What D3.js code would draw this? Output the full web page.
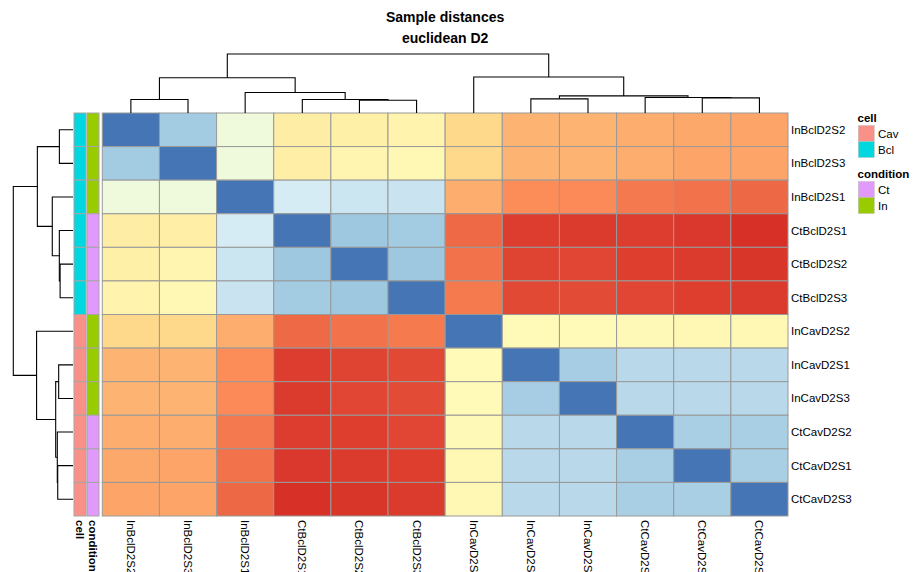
<!DOCTYPE html>
<html lang="en">
	<head>
		<meta charset="utf-8">
		<title>Sample distances</title>
		<style>
			body {
				margin: 0;
				background-color: #ffffff;
				font-family: "Liberation Sans", Arial, Helvetica, sans-serif;
			}
			text {
				font-family: "Liberation Sans", Arial, Helvetica, sans-serif;
			}
			.title { font-size: 14px; font-weight: bold; }
			.lab { font-size: 11.5px; fill: #000; }
			.annlab { font-size: 11.5px; font-weight: bold; }
			.dendro path { fill: none; stroke: #000; stroke-width: 1.1px; }
			rect.cell { stroke: #999999; stroke-width: 1px; }
		</style>
	</head>
	<body>
		<script src="https://cdnjs.cloudflare.com/ajax/libs/d3/7.8.5/d3.min.js"></script>
		<script>

			// samples in the order they are drawn (rows = columns)
			var samples = ["InBclD2S2", "InBclD2S3", "InBclD2S1", "CtBclD2S1", "CtBclD2S2", "CtBclD2S3",
				"InCavD2S2", "InCavD2S1", "InCavD2S3", "CtCavD2S2", "CtCavD2S1", "CtCavD2S3"];

			var cellAnn = ["Bcl", "Bcl", "Bcl", "Bcl", "Bcl", "Bcl", "Cav", "Cav", "Cav", "Cav", "Cav", "Cav"];
			var conditionAnn = ["In", "In", "In", "Ct", "Ct", "Ct", "In", "In", "In", "Ct", "Ct", "Ct"];

			var cellLevels = ["Cav", "Bcl"];
			var cellColors = ["#FA9189", "#00D7DE"];
			var conditionLevels = ["Ct", "In"];
			var conditionColors = ["#E199FB", "#98CB00"];

			// euclidean distances, scaled so the largest is 100
			var distances = [
				[0, 20.5, 41.5, 59.7, 58.0, 56.5, 68.0, 75.5, 75.5, 77.0, 78.0, 78.5],
				[20.5, 0, 41.5, 59.0, 55.3, 53.5, 68.0, 75.5, 75.5, 77.0, 78.5, 78.5],
				[41.5, 41.5, 0, 31.2, 29.2, 28.5, 77.0, 83.5, 83.8, 87.0, 88.0, 90.0],
				[59.7, 59.0, 31.2, 0, 19.4, 20.5, 89.6, 97.7, 98.0, 97.7, 98.5, 100],
				[58.0, 55.3, 29.2, 19.4, 0, 19.4, 88.0, 96.6, 96.0, 97.5, 98.0, 99.0],
				[56.5, 53.5, 28.5, 20.5, 19.4, 0, 86.5, 95.5, 95.0, 96.0, 97.5, 98.0],
				[68.0, 68.0, 77.0, 89.6, 88.0, 86.5, 0, 52.7, 52.7, 53.0, 53.5, 53.5],
				[75.5, 75.5, 83.5, 97.7, 96.6, 95.5, 52.7, 0, 21.0, 25.0, 25.0, 25.0],
				[75.5, 75.5, 83.8, 98.0, 96.0, 95.0, 52.7, 21.0, 0, 25.0, 25.0, 25.0],
				[77.0, 77.0, 87.0, 97.7, 97.5, 96.0, 53.0, 25.0, 25.0, 0, 21.7, 21.7],
				[78.0, 78.5, 88.0, 98.5, 98.0, 97.5, 53.5, 25.0, 25.0, 21.7, 0, 21.7],
				[78.5, 78.5, 90.0, 100, 99.0, 98.0, 53.5, 25.0, 25.0, 21.7, 21.7, 0]
			];

			// hierarchical clustering merges: [left, right, height]; numbers point to earlier merges
			var merges = [
				["CtBclD2S2", "CtBclD2S3", 21.6],
				["InBclD2S2", "InBclD2S3", 22.8],
				["CtBclD2S1", 0, 22.9],
				["InCavD2S1", "InCavD2S3", 24.0],
				["CtCavD2S1", "CtCavD2S3", 25.6],
				["CtCavD2S2", 4, 26.3],
				[3, 5, 29.0],
				["InBclD2S1", 2, 34.7],
				[1, 7, 59.7],
				["InCavD2S2", 6, 61.0],
				[8, 9, 100]
			];

			var palette = ["#4575B4", "#91BFDB", "#E0F3F8", "#FFFFBF", "#FEE090", "#FC8D59", "#D73027"];

			var fullwidth = 913;
			var fullheight = 572;

			var hm = { left: 102.3, right: 788, top: 113, bottom: 516 };

			var svg = d3.select("body")
				.append("svg")
				.attr("width", fullwidth)
				.attr("height", fullheight);

			var xScale = d3.scaleBand()
				.domain(samples)
				.range([hm.left, hm.right]);

			var yScale = d3.scaleBand()
				.domain(samples)
				.range([hm.top, hm.bottom]);

			var maxD = d3.max(distances, function(r) { return d3.max(r); });
			var color = d3.scaleLinear()
				.domain(palette.map(function(c, i) { return maxD * i / (palette.length - 1); }))
				.range(palette)
				.interpolate(d3.interpolateRgb);

			// title
			svg.append("text").attr("class", "title")
				.attr("x", (hm.left + hm.right) / 2).attr("y", 22)
				.attr("text-anchor", "middle")
				.text("Sample distances");
			svg.append("text").attr("class", "title")
				.attr("x", (hm.left + hm.right) / 2).attr("y", 42.5)
				.attr("text-anchor", "middle")
				.text("euclidean D2");

			// heatmap cells
			var cells = [];
			distances.forEach(function(row, i) {
				row.forEach(function(v, j) {
					cells.push({ r: samples[i], c: samples[j], v: v });
				});
			});

			svg.append("g")
				.selectAll("rect")
				.data(cells)
				.enter()
				.append("rect")
				.attr("class", "cell")
				.attr("x", function(d) { return xScale(d.c); })
				.attr("y", function(d) { return yScale(d.r); })
				.attr("width", xScale.bandwidth())
				.attr("height", yScale.bandwidth())
				.attr("fill", function(d) { return color(d.v); });

			// row annotation tracks
			var cellColor = d3.scaleOrdinal().domain(cellLevels).range(cellColors);
			var condColor = d3.scaleOrdinal().domain(conditionLevels).range(conditionColors);

			var tracks = [
				{ name: "cell", x: 74, values: cellAnn, scale: cellColor },
				{ name: "condition", x: 87, values: conditionAnn, scale: condColor }
			];
			var trackW = 12;

			tracks.forEach(function(t) {
				svg.append("g")
					.selectAll("rect")
					.data(t.values)
					.enter()
					.append("rect")
					.attr("x", t.x)
					.attr("y", function(d, i) { return yScale(samples[i]); })
					.attr("width", trackW)
					.attr("height", yScale.bandwidth())
					.attr("fill", function(d) { return t.scale(d); })
					.attr("stroke", "#a6a6a6")
					.attr("stroke-width", 1);

				svg.append("text")
					.attr("class", "annlab")
					.attr("transform", "translate(" + (t.x + trackW / 2) + "," + (hm.bottom + 4) + ") rotate(90)")
					.attr("dy", "0.35em")
					.text(t.name);
			});

			// row labels
			svg.append("g")
				.selectAll("text")
				.data(samples)
				.enter()
				.append("text")
				.attr("class", "lab")
				.attr("x", hm.right + 3)
				.attr("y", function(d) { return yScale(d) + yScale.bandwidth() / 2; })
				.attr("dy", "0.35em")
				.text(function(d) { return d; });

			// column labels (they run off the bottom edge, as in the original)
			svg.append("g")
				.selectAll("text")
				.data(samples)
				.enter()
				.append("text")
				.attr("class", "lab")
				.attr("transform", function(d) {
					return "translate(" + (xScale(d) + xScale.bandwidth() / 2) + "," + (hm.bottom + 4) + ") rotate(90)";
				})
				.attr("dy", "0.35em")
				.text(function(d) { return d; });

			// dendrograms
			function buildTree(pos) {
				var nodes = [];
				merges.forEach(function(m) {
					var kids = [m[0], m[1]].map(function(k) {
						if (typeof k === "string") return { p: pos(k), h: 0 };
						return nodes[k];
					});
					nodes.push({ p: (kids[0].p + kids[1].p) / 2, h: m[2], kids: kids });
				});
				return nodes;
			}

			var maxH = d3.max(merges, function(m) { return m[2]; });

			// top (columns)
			var topH = d3.scaleLinear().domain([0, maxH]).range([hm.top, 54]);
			var colNodes = buildTree(function(s) { return xScale(s) + xScale.bandwidth() / 2; });
			svg.append("g").attr("class", "dendro")
				.selectAll("path")
				.data(colNodes)
				.enter()
				.append("path")
				.attr("d", function(n) {
					var a = n.kids[0], b = n.kids[1];
					return "M" + a.p + "," + topH(a.h) + "V" + topH(n.h) + "H" + b.p + "V" + topH(b.h);
				});

			// left (rows)
			var leftH = d3.scaleLinear().domain([0, maxH]).range([73, 13.3]);
			var rowNodes = buildTree(function(s) { return yScale(s) + yScale.bandwidth() / 2; });
			svg.append("g").attr("class", "dendro")
				.selectAll("path")
				.data(rowNodes)
				.enter()
				.append("path")
				.attr("d", function(n) {
					var a = n.kids[0], b = n.kids[1];
					return "M" + leftH(a.h) + "," + a.p + "H" + leftH(n.h) + "V" + b.p + "H" + leftH(b.h);
				});

			// legends
			var legends = [
				{ title: "cell", y: 122, levels: cellLevels, scale: cellColor },
				{ title: "condition", y: 178, levels: conditionLevels, scale: condColor }
			];
			legends.forEach(function(l) {
				var g = svg.append("g");
				g.append("text")
					.attr("class", "annlab")
					.attr("x", 857.5)
					.attr("y", l.y)
					.text(l.title);
				l.levels.forEach(function(lv, i) {
					g.append("rect")
						.attr("x", 858.3)
						.attr("y", l.y + 3.5 + i * 16)
						.attr("width", 16)
						.attr("height", 16)
						.attr("fill", l.scale(lv))
						.attr("stroke", "#bdbdbd")
						.attr("stroke-width", 0.5);
					g.append("text")
						.attr("class", "lab")
						.attr("x", 878)
						.attr("y", l.y + 3.5 + i * 16 + 8)
						.attr("dy", "0.35em")
						.text(lv);
				});
			});

		</script>
	</body>
</html>
